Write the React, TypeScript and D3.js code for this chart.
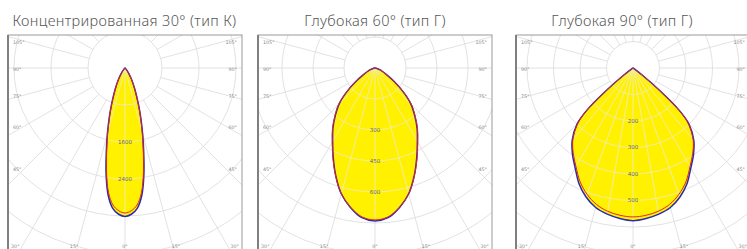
import React from 'react';
import * as d3 from 'd3';

// ---------- data ----------
const titles = ['Концентрированная 30° (тип К)', 'Глубокая 60° (тип Г)', 'Глубокая 90° (тип Г)'];

// Panel 1 – concentrated 30° (cd)
const anglesK = [0, 2.5, 5, 7.5, 10, 12.5, 15, 17.5, 20, 25, 30, 35, 40, 50, 60];
const blueK = [3210, 3165, 3045, 2780, 2350, 1870, 1470, 1140, 870, 500, 280, 140, 60, 15, 0];
const redK = [3135, 3090, 2975, 2720, 2300, 1830, 1440, 1115, 850, 490, 275, 135, 58, 14, 0];

// Panel 2 – deep 60°
const angles60 = [0, 5, 10, 15, 20, 25, 30, 35, 40, 45, 50, 55, 60, 65, 70, 75, 80, 85, 90];
const blue60 = [740, 727, 685, 630, 555, 478, 410, 355, 298, 245, 176, 112, 66, 40, 24, 13, 6, 2, 0];
const red60 = [735, 723, 684, 630, 557, 482, 414, 359, 302, 249, 179, 114, 67, 40, 24, 13, 6, 2, 0];

// Panel 3 – deep 90°
const angles90 = [0, 5, 10, 15, 20, 25, 30, 35, 40, 45, 47.5, 50, 52.5, 55, 60, 70];
const blue90 = [576, 570, 560, 545, 518, 482, 436, 398, 357, 298, 238, 125, 45, 12, 3, 0];
const red90 = [562, 558, 549, 533, 507, 473, 430, 393, 353, 294, 235, 123, 44, 12, 3, 0];

const ringSteps = [800, 150, 100];
const ringLabelsK = [1600, 2400];
const ringLabels60 = [300, 450, 600];
const ringLabels90 = [200, 300, 400, 500];

const sideAngles = [105, 90, 75, 60, 45];
const bottomAngles = [30, 15, 0];

// ---------- layout ----------
const W = 747;
const H = 249;
const CY = 68;
const BOX_TOP = 35;
const BOX_BOTTOM = 253;
const HALF_W = 117;

const panels = [
  { cx: 125, ringPx: 37, titleX: 124.5, angles: anglesK, blue: blueK, red: redK, labels: ringLabelsK, step: ringSteps[0] },
  { cx: 375, ringPx: 31, titleX: 375, angles: angles60, blue: blue60, red: red60, labels: ringLabels60, step: ringSteps[1] },
  { cx: 633, ringPx: 26.5, titleX: 622, angles: angles90, blue: blue90, red: red90, labels: ringLabels90, step: ringSteps[2] },
];

const rad = (deg: number) => (deg * Math.PI) / 180;

function curvePath(angles: number[], vals: number[], r: d3.ScaleLinear<number, number>) {
  const pts: [number, number][] = [];
  const n = angles.length;
  for (let i = n - 1; i >= 0; i--) {
    if (vals[i] > 0) pts.push([Math.PI - rad(angles[i]), r(vals[i])]);
  }
  for (let i = 1; i < n; i++) {
    if (vals[i] > 0) pts.push([Math.PI + rad(angles[i]), r(vals[i])]);
  }
  pts.unshift([0, 0]);
  const line = d3
    .lineRadial<[number, number]>()
    .angle((d) => d[0])
    .radius((d) => d[1])
    .curve(d3.curveCatmullRomClosed.alpha(0.5));
  return line(pts) || '';
}

function Panel({ p, idx }: { p: (typeof panels)[number]; idx: number }) {
  const x0 = p.cx - HALF_W;
  const x1 = p.cx + HALF_W;
  const r = d3.scaleLinear().domain([0, p.step]).range([0, p.ringPx]);
  const rings = d3.range(1, 12).map((k) => k * p.ringPx);
  const spokes = d3.range(0, 360, 15);
  const fineSpokes = d3.range(0, 360, idx === 2 ? 10 : 15);
  const bluePath = curvePath(p.angles, p.blue, r);
  const redPath = curvePath(p.angles, p.red, r);
  const clipBox = `box-${idx}`;
  const clipFill = `fill-${idx}`;
  const gridColor = '#dadada';
  const labelY = (a: number) => CY + (100 * Math.cos(rad(a))) / Math.sin(rad(a)) + 3;
  const bottomY = 246;

  return (
    <g>
      <defs>
        <clipPath id={clipBox}>
          <rect x={x0} y={BOX_TOP} width={x1 - x0} height={BOX_BOTTOM - BOX_TOP} />
        </clipPath>
        <clipPath id={clipFill}>
          <path d={bluePath} transform={`translate(${p.cx},${CY})`} />
          <path d={redPath} transform={`translate(${p.cx},${CY})`} />
        </clipPath>
      </defs>
      <text
        x={p.titleX}
        y={26}
        textAnchor="middle"
        fontFamily="'Noto Sans', sans-serif"
        fontWeight={300}
        fontSize={14.5}
        letterSpacing={0.35}
        fill="#555"
      >
        {titles[idx]}
      </text>
      <rect x={x0} y={BOX_TOP} width={x1 - x0} height={BOX_BOTTOM - BOX_TOP} fill="#fff" />
      <g clipPath={`url(#${clipBox})`}>
        <g transform={`translate(${p.cx},${CY})`} fill="none" stroke={gridColor} strokeWidth={0.8}>
          {rings.map((rr) => (
            <circle key={rr} r={rr} />
          ))}
          {spokes.map((a) => (
            <line
              key={a}
              x1={p.ringPx * Math.sin(rad(a))}
              y1={p.ringPx * Math.cos(rad(a))}
              x2={400 * Math.sin(rad(a))}
              y2={400 * Math.cos(rad(a))}
            />
          ))}
        </g>
        <g transform={`translate(${p.cx},${CY})`}>
          <path d={bluePath} fill="#fff100" />
          <path d={redPath} fill="#fff100" />
        </g>
        <g clipPath={`url(#${clipFill})`}>
          <g transform={`translate(${p.cx},${CY})`} fill="none" stroke="#f2eda0" strokeWidth={1}>
            {rings.map((rr) => (
              <circle key={rr} r={rr} />
            ))}
            {fineSpokes.map((a) => (
              <line
                key={a}
                x1={0}
                y1={0}
                x2={400 * Math.sin(rad(a))}
                y2={400 * Math.cos(rad(a))}
              />
            ))}
          </g>
        </g>
        <g transform={`translate(${p.cx},${CY})`} fill="none">
          <path d={bluePath} stroke="#2a2ab8" strokeWidth={1.5} />
          <path d={redPath} stroke="#e3261d" strokeWidth={1} />
        </g>
        {p.labels.map((v) => (
          <text
            key={v}
            x={p.cx}
            y={CY + r(v)}
            dy="0.35em"
            textAnchor="middle"
            fontFamily="'DejaVu Sans', sans-serif"
            fontSize={5.5}
            fill="#666"
          >
            {v}
          </text>
        ))}
        {sideAngles.map((a) => (
          <g key={a}>
            <text x={x0 + 5} y={labelY(a)} fontFamily="'DejaVu Sans', sans-serif" fontSize={4.8} fill="#888">
              {a}°
            </text>
            <text
              x={x1 - 5}
              y={labelY(a)}
              textAnchor="end"
              fontFamily="'DejaVu Sans', sans-serif"
              fontSize={4.8}
              fill="#888"
            >
              {a}°
            </text>
          </g>
        ))}
        {bottomAngles.map((a) => {
          const off = (bottomY - CY + 12) * Math.tan(rad(a));
          const xs = a === 0 ? [p.cx] : [p.cx - off, p.cx + off];
          return xs.map((x, j) => (
            <text
              key={`${a}-${j}`}
              x={x}
              y={bottomY}
              dy="0.35em"
              textAnchor="middle"
              fontFamily="'DejaVu Sans', sans-serif"
              fontSize={4.8}
              fill="#888"
            >
              {a}°
            </text>
          ));
        })}
      </g>
      <rect
        x={x0}
        y={BOX_TOP}
        width={x1 - x0}
        height={BOX_BOTTOM - BOX_TOP}
        fill="none"
        stroke="#9a9a9a"
        strokeWidth={1}
      />
      <line x1={x0} y1={BOX_TOP} x2={x0} y2={BOX_BOTTOM} stroke="#808080" strokeWidth={2} />
    </g>
  );
}

export default function App() {
  return (
    <svg
      width={W}
      height={H}
      viewBox={`0 0 ${W} ${H}`}
      style={{ position: 'absolute', left: 0, top: 0, background: '#fff' }}
    >
      {panels.map((p, i) => (
        <Panel key={i} p={p} idx={i} />
      ))}
    </svg>
  );
}
